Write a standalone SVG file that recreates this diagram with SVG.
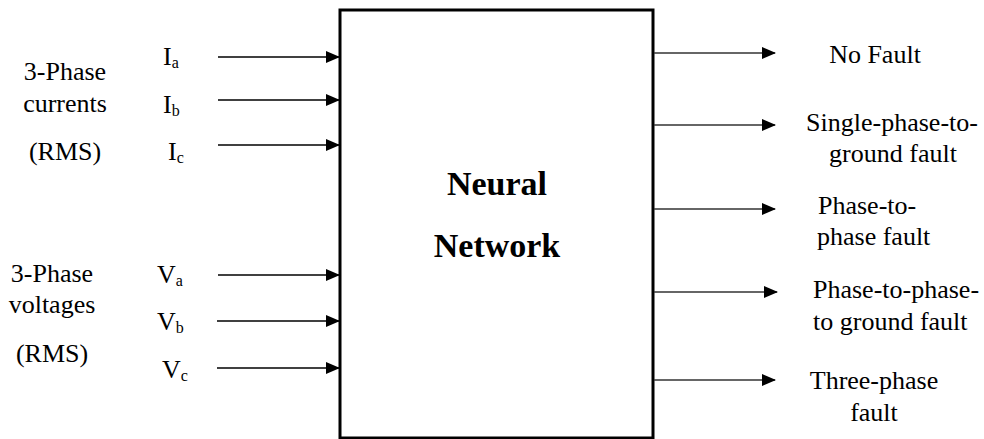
<svg xmlns="http://www.w3.org/2000/svg" width="984" height="439" viewBox="0 0 984 439">
  <style>
    .t { font-family: "Liberation Serif", "Times New Roman", serif; font-size: 26px; fill: #000; }
    .sub { font-size: 16px; }
    .b { font-family: "Liberation Serif", "Times New Roman", serif; font-size: 34px; font-weight: bold; fill: #000; }
    .in { stroke: #000; stroke-width: 1.6; fill: none; }
    .out { stroke: #333; stroke-width: 1.5; fill: none; }
  </style>
  <defs>
    <marker id="arrow" markerUnits="userSpaceOnUse" markerWidth="14" markerHeight="12" refX="13" refY="6" orient="auto">
      <path d="M0,0 L14,6 L0,12 Z" fill="#000"/>
    </marker>
  </defs>
  <rect width="984" height="439" fill="#fff"/>

  <!-- central block -->
  <g id="neural-network">
    <rect x="340" y="10" width="313" height="428" fill="#fff" stroke="#000" stroke-width="3"/>
    <text class="b" x="497" y="195" text-anchor="middle">Neural</text>
    <text class="b" x="497" y="257" text-anchor="middle">Network</text>
  </g>

  <!-- input groups -->
  <g id="currents">
    <text class="t" x="65" y="80" text-anchor="middle">3-Phase</text>
    <text class="t" x="65" y="112" text-anchor="middle">currents</text>
    <text class="t" x="65" y="160" text-anchor="middle">(RMS)</text>
    <text class="t" x="163" y="65">I<tspan class="sub" dy="3">a</tspan></text>
    <text class="t" x="163" y="113">I<tspan class="sub" dy="3">b</tspan></text>
    <text class="t" x="168" y="160">I<tspan class="sub" dy="3">c</tspan></text>
  </g>
  <g id="voltages">
    <text class="t" x="52" y="282" text-anchor="middle">3-Phase</text>
    <text class="t" x="52" y="313" text-anchor="middle">voltages</text>
    <text class="t" x="52" y="362" text-anchor="middle">(RMS)</text>
    <text class="t" x="157" y="283">V<tspan class="sub" dy="3">a</tspan></text>
    <text class="t" x="157" y="330">V<tspan class="sub" dy="3">b</tspan></text>
    <text class="t" x="162" y="378">V<tspan class="sub" dy="3">c</tspan></text>
  </g>

  <!-- output classes -->
  <g id="no-fault">
    <text class="t" x="875" y="63" text-anchor="middle">No Fault</text>
  </g>
  <g id="single-phase-ground">
    <text class="t" x="892" y="131" text-anchor="middle">Single-phase-to-</text>
    <text class="t" x="893" y="162" text-anchor="middle">ground fault</text>
  </g>
  <g id="phase-phase">
    <text class="t" x="818" y="214">Phase-to-</text>
    <text class="t" x="817" y="245">phase fault</text>
  </g>
  <g id="phase-phase-ground">
    <text class="t" x="813" y="298">Phase-to-phase-</text>
    <text class="t" x="813" y="330">to ground fault</text>
  </g>
  <g id="three-phase">
    <text class="t" x="874" y="389" text-anchor="middle">Three-phase</text>
    <text class="t" x="874" y="421" text-anchor="middle">fault</text>
  </g>

  <!-- connectors -->
  <g id="connectors">
    <line class="in" x1="218" y1="57" x2="339" y2="57" marker-end="url(#arrow)"/>
    <line class="in" x1="218" y1="100" x2="339" y2="100" marker-end="url(#arrow)"/>
    <line class="in" x1="218" y1="145" x2="339" y2="145" marker-end="url(#arrow)"/>
    <line class="in" x1="218" y1="275" x2="339" y2="275" marker-end="url(#arrow)"/>
    <line class="in" x1="217" y1="321" x2="339" y2="321" marker-end="url(#arrow)"/>
    <line class="in" x1="217" y1="368" x2="339" y2="368" marker-end="url(#arrow)"/>
    <line class="out" x1="654" y1="53" x2="775" y2="53" marker-end="url(#arrow)"/>
    <line class="out" x1="654" y1="125" x2="775" y2="125" marker-end="url(#arrow)"/>
    <line class="out" x1="654" y1="209" x2="775" y2="209" marker-end="url(#arrow)"/>
    <line class="out" x1="654" y1="292" x2="777" y2="292" marker-end="url(#arrow)"/>
    <line class="out" x1="654" y1="380" x2="775" y2="380" marker-end="url(#arrow)"/>
  </g>
</svg>
